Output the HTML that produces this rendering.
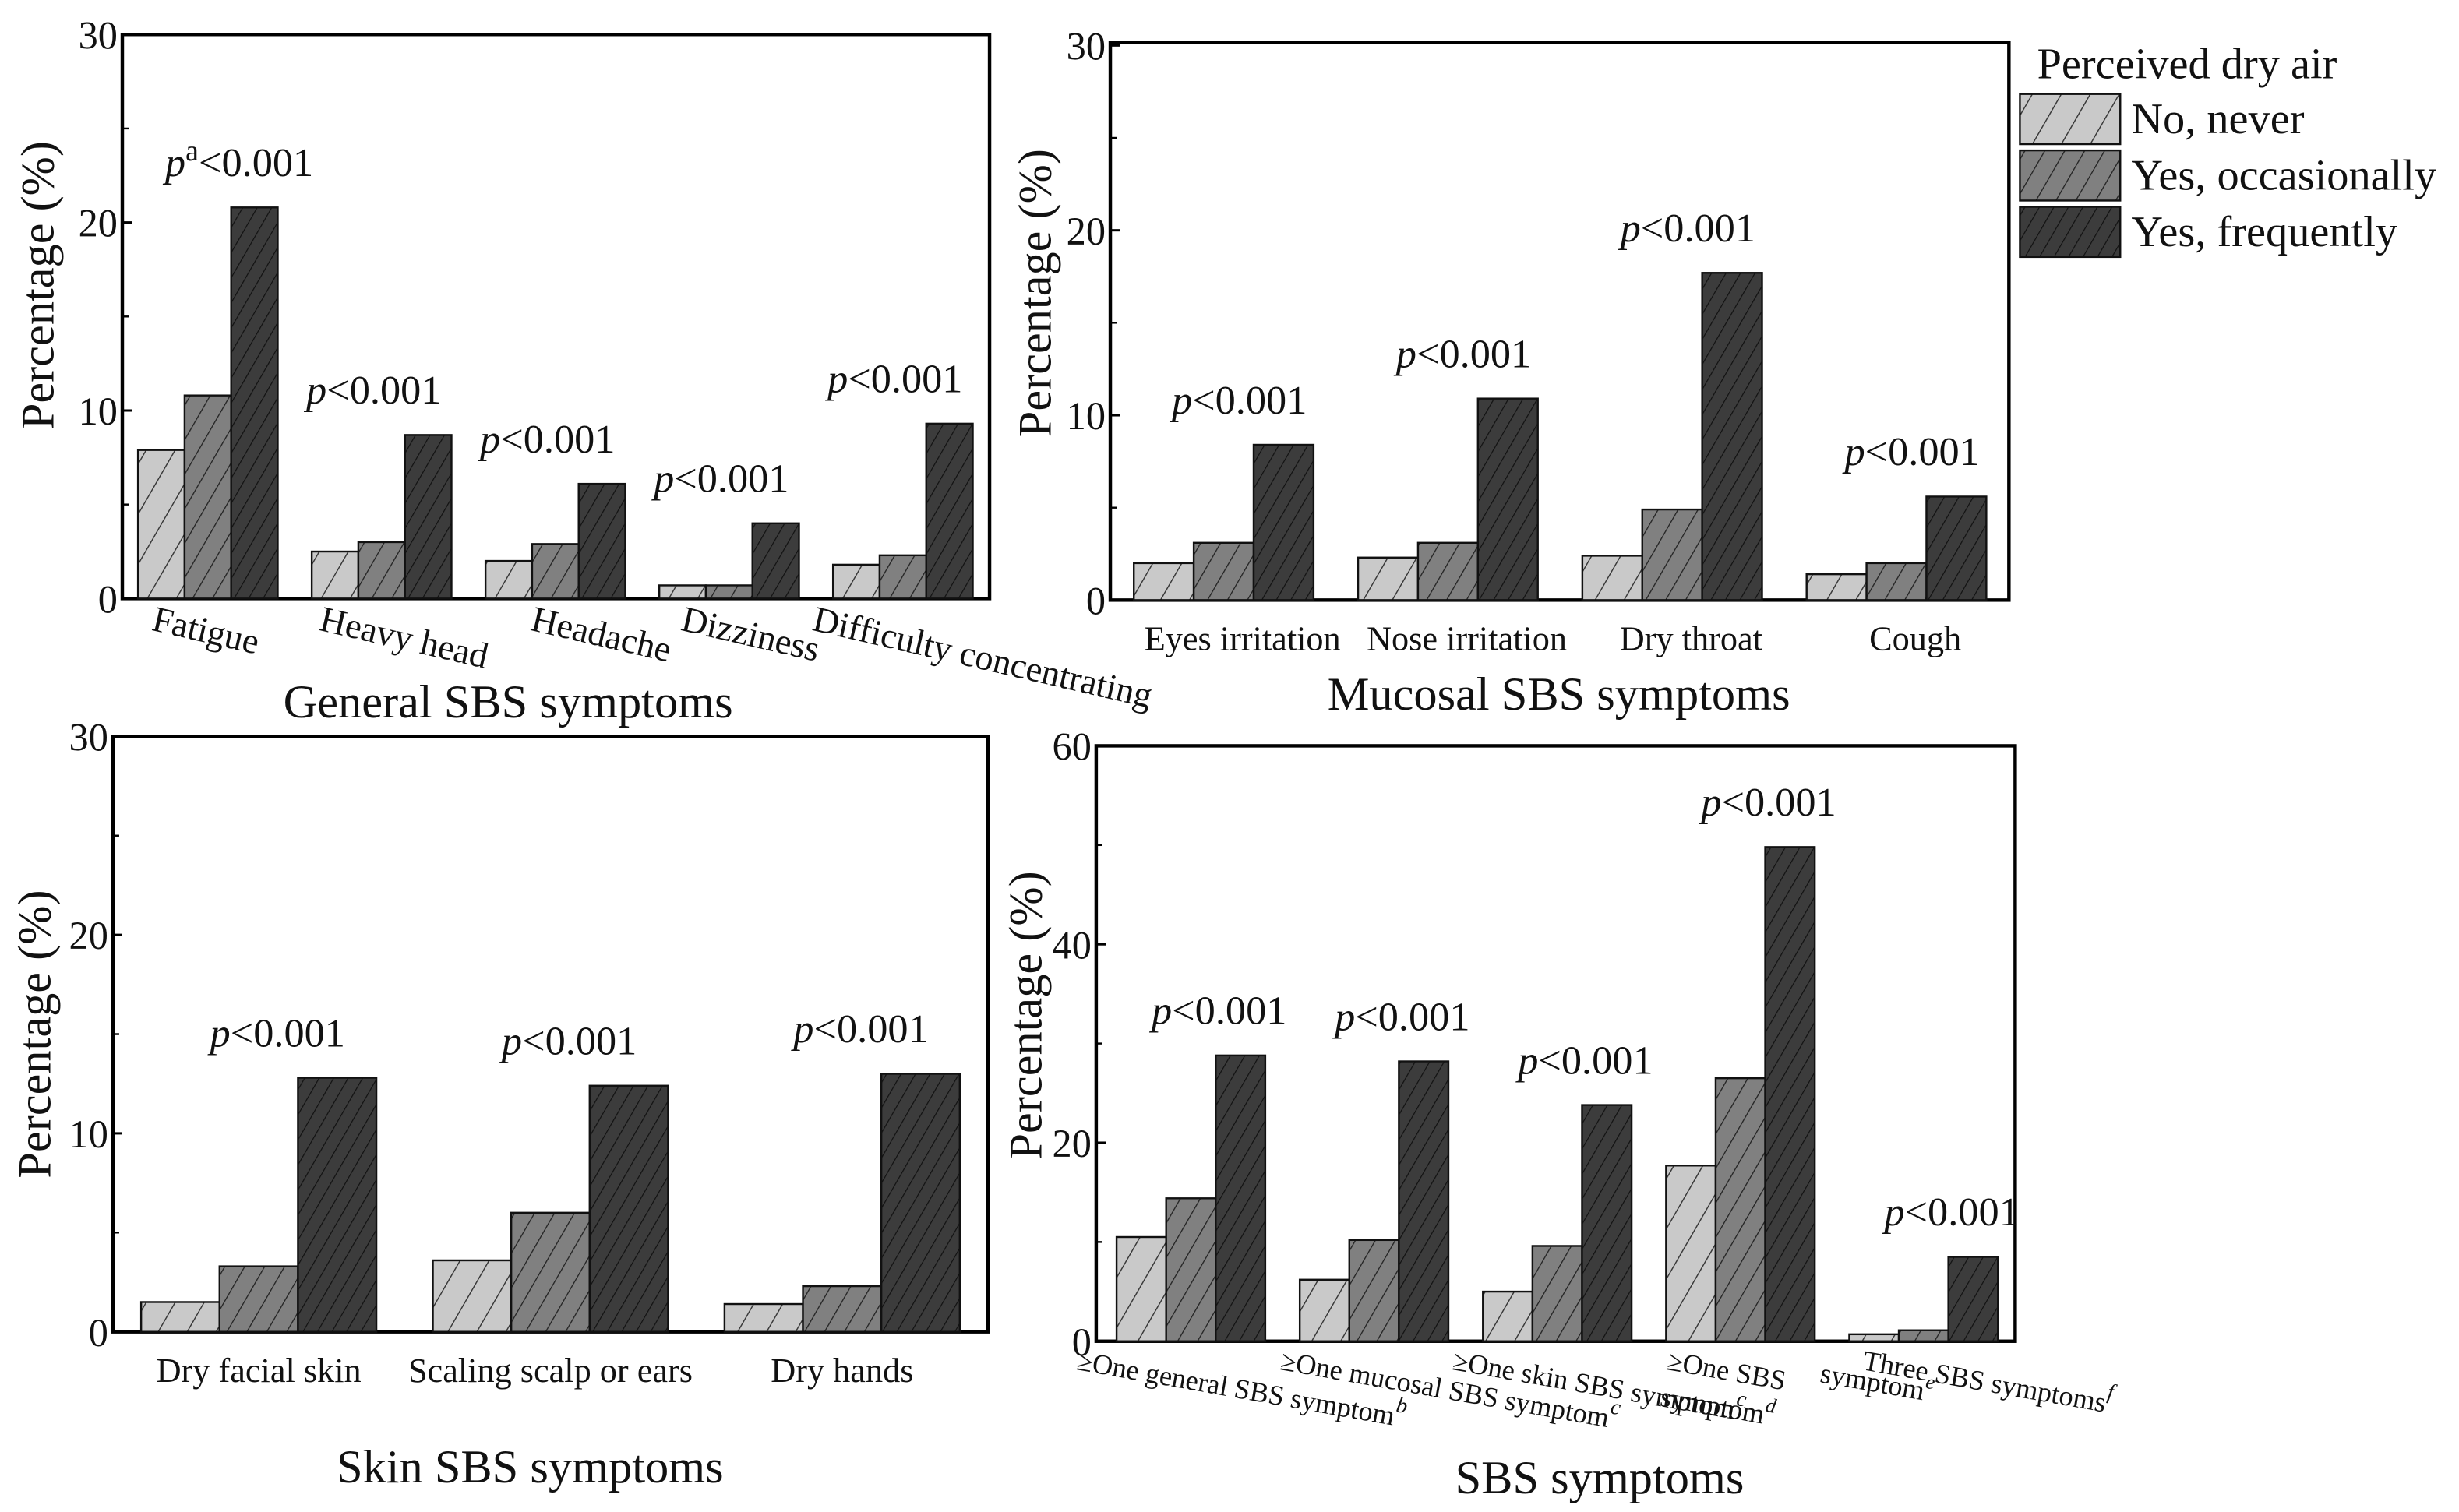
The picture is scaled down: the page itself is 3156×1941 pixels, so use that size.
<!DOCTYPE html>
<html><head><meta charset="utf-8"><style>
html,body{margin:0;padding:0;background:#fff}
svg{display:block}
svg text, svg tspan{font-family:"Liberation Serif","Times New Roman","DejaVu Serif",serif;fill:#111}
</style></head><body>
<svg id="fig" width="3156" height="1941" viewBox="0 0 1568 965" preserveAspectRatio="none" xmlns="http://www.w3.org/2000/svg" font-family="Liberation Serif, serif">
<defs>
<pattern id="h0" width="16" height="16" patternUnits="userSpaceOnUse" patternTransform="rotate(30)"><rect width="16" height="16" fill="#c9c9c9"/><line x1="0" y1="0" x2="0" y2="16" stroke="#333" stroke-width="1.4"/></pattern>
<pattern id="h1" width="11" height="11" patternUnits="userSpaceOnUse" patternTransform="rotate(30)"><rect width="11" height="11" fill="#808080"/><line x1="0" y1="0" x2="0" y2="11" stroke="#222" stroke-width="1.3"/></pattern>
<pattern id="h2" width="8" height="8" patternUnits="userSpaceOnUse" patternTransform="rotate(30)"><rect width="8" height="8" fill="#3c3c3c"/><line x1="0" y1="0" x2="0" y2="8" stroke="#111" stroke-width="1.2"/></pattern>
</defs>
<g id="legend">
<text x="1299" y="50" font-size="28">Perceived dry air</text>
<rect x="1288" y="60" width="64" height="32" fill="url(#h0)" stroke="#111" stroke-width="1.2"/>
<text x="1359" y="85" font-size="28">No, never</text>
<rect x="1288" y="96" width="64" height="32" fill="url(#h1)" stroke="#111" stroke-width="1.2"/>
<text x="1359" y="121" font-size="28">Yes, occasionally</text>
<rect x="1288" y="132" width="64" height="32" fill="url(#h2)" stroke="#111" stroke-width="1.2"/>
<text x="1359" y="157" font-size="28">Yes, frequently</text>
</g>
</svg>
<script>
// Panel 1: General SBS symptoms
const genCats = ["Fatigue","Heavy head","Headache","Dizziness","Difficulty concentrating"];
const genNever = [7.9, 2.5, 2.0, 0.7, 1.8];
const genOcc = [10.8, 3.0, 2.9, 0.7, 2.3];
const genFreq = [20.8, 8.7, 6.1, 4.0, 9.3];
const genTicks = [0, 10, 20, 30];
// Panel 2: Mucosal
const mucCats = ["Eyes irritation","Nose irritation","Dry throat","Cough"];
const mucNever = [2.0, 2.3, 2.4, 1.4];
const mucOcc = [3.1, 3.1, 4.9, 2.0];
const mucFreq = [8.4, 10.9, 17.7, 5.6];
const mucTicks = [0, 10, 20, 30];
// Panel 3: Skin
const skinCats = ["Dry facial skin","Scaling scalp or ears","Dry hands"];
const skinNever = [1.5, 3.6, 1.4];
const skinOcc = [3.3, 6.0, 2.3];
const skinFreq = [12.8, 12.4, 13.0];
const skinTicks = [0, 10, 20, 30];
// Panel 4: SBS
const sbsCats = ["≥One general SBS symptom","≥One mucosal SBS symptom","≥One skin SBS symptom","≥One SBS","Three SBS symptoms"];
const sbsSup = ["b","c","c","","f"];
const sbsNever = [10.5, 6.2, 5.0, 17.7, 0.7];
const sbsOcc = [14.4, 10.2, 9.6, 26.5, 1.1];
const sbsFreq = [28.8, 28.2, 23.8, 49.8, 8.5];
const sbsTicks = [0, 20, 40, 60];
const pLabels = ["<0.001"];

const FF = '"Liberation Serif", "Times New Roman", serif';
const NS = "http://www.w3.org/2000/svg";
const svg = document.getElementById('fig');
function mk(tag, attrs, parent, txt){
  const e = document.createElementNS(NS, tag);
  for (const k in attrs) e.setAttribute(k, attrs[k]);
  if (tag === 'text') e.setAttribute('font-family', FF);
  if (txt !== undefined) e.textContent = txt;
  (parent || svg).appendChild(e);
  return e;
}
function panel(cfg){
  const g = mk('g', {});
  
  
  const yS = v => cfg.y0 - v * (cfg.y0 - cfg.yT) / cfg.max;
  const frame = mk('rect', {x:cfg.x0, y:cfg.yT - cfg.pad, width:cfg.x1 - cfg.x0, height:cfg.y0 - cfg.yT + cfg.pad, fill:'none', stroke:'#000', 'stroke-width':2.2}, g);
  
  
  cfg.ticks.forEach(t => {
    const y = yS(t);
    const lb = mk('text', {x:cfg.x0 - 3, y:y + 9, 'font-size':25, 'text-anchor':'end'}, g, String(t));
    
    
    mk('line', {x1:cfg.x0, x2:cfg.x0 + 6, y1:y, y2:y, stroke:'#000', 'stroke-width':1.5}, g);
  });
  for (let i = 0; i < cfg.ticks.length - 1; i++) {
    const y = yS((cfg.ticks[i] + cfg.ticks[i + 1]) / 2);
    mk('line', {x1:cfg.x0, x2:cfg.x0 + 4, y1:y, y2:y, stroke:'#000', 'stroke-width':1.2}, g);
  }
  const series = [cfg.s0, cfg.s1, cfg.s2];
  cfg.cats.forEach((c, i) => {
    const gx = cfg.gx0 + i * cfg.gs;
    series.forEach((s, j) => {
      const r = mk('rect', {x:gx + j * cfg.bw, y:yS(s[i]), width:cfg.bw, height:cfg.y0 - yS(s[i]), fill:'url(#h' + j + ')', stroke:'#111', 'stroke-width':1.2}, g);
      
      
    });
    const top = yS(cfg.s2[i]);
    const dx = (cfg.supA && i === 0) ? 20 : cfg.pdx;
    const pt = mk('text', {x:gx + cfg.bw * 1.5 + dx, y:top - 20, 'font-size':26, 'text-anchor':'middle'}, g);
    
    
    mk('tspan', {'font-style':'italic'}, pt, 'p');
    if (cfg.supA && i === 0) mk('tspan', {'font-size':19, dy:-10}, pt, 'a');
    mk('tspan', (cfg.supA && i === 0) ? {dy:10} : {}, pt, pLabels[0]);
    let lb;
    if (cfg.rot) {
      const lx = gx + cfg.lxs[i], ly = cfg.y0 + cfg.ly;
      lb = mk('text', {x:lx, y:ly, 'font-size':cfg.lfs, transform:'rotate(' + cfg.rot + ' ' + lx + ' ' + ly + ')'}, g, c);
      if (cfg.sup && cfg.sup[i]) mk('tspan', {'font-size':14, 'font-style':'italic', dy:-9}, lb, cfg.sup[i]);
    } else {
      lb = mk('text', {x:gx + cfg.bw * 1.5 + cfg.ldx, y:cfg.y0 + 32, 'font-size':22, 'text-anchor':'middle'}, g, c);
    }
    
    
  });
  const yt = mk('text', {x:cfg.ylx, y:cfg.yly, 'font-size':30, 'text-anchor':'middle', transform:'rotate(-90 ' + cfg.ylx + ' ' + cfg.yly + ')'}, g, 'Percentage (%)');
  
  
  const xt = mk('text', {x:cfg.tx, y:cfg.ty, 'font-size':30, 'text-anchor':'middle'}, g, cfg.title);
  
  
  return g;
}
panel({name:'general-sbs-panel', x0:78, x1:631, yT:22, y0:382, pad:0, max:30, ticks:genTicks, cats:genCats, s0:genNever, s1:genOcc, s2:genFreq, gx0:88, gs:110.8, bw:29.7, rot:13, lxs:[8,4,28,13,-14], ly:20, lfs:23, supA:true, pdx:-5, ylx:34, yly:182, tx:324, ty:458, title:'General SBS symptoms'});
panel({name:'mucosal-sbs-panel', x0:708, x1:1281, yT:29, y0:383, pad:2, max:30, ticks:mucTicks, cats:mucCats, s0:mucNever, s1:mucOcc, s2:mucFreq, gx0:723, gs:143, bw:38.2, pdx:10, ldx:12, ylx:670, yly:187, tx:994, ty:453, title:'Mucosal SBS symptoms'});
panel({name:'skin-sbs-panel', x0:72, x1:630, yT:470, y0:850, pad:0, max:30, ticks:skinTicks, cats:skinCats, s0:skinNever, s1:skinOcc, s2:skinFreq, gx0:90, gs:186, bw:50, pdx:12, ldx:0, ylx:32, yly:660, tx:338, ty:946, title:'Skin SBS symptoms'});
panel({name:'sbs-panel', x0:699, x1:1285, yT:476, y0:856, pad:0, max:60, ticks:sbsTicks, cats:sbsCats, sup:sbsSup, s0:sbsNever, s1:sbsOcc, s2:sbsFreq, gx0:712, gs:116.8, bw:31.6, rot:10, lxs:[-26,-13,-20,0,8], ly:18, lfs:18, pdx:18, ylx:664, yly:648, tx:1020, ty:953, title:'SBS symptoms'});
const ex = mk('text', {x:1058, y:897, 'font-size':18, transform:'rotate(10 1058 897)'}, svg, 'symptom');


mk('tspan', {'font-size':13, 'font-style':'italic', dy:-8}, ex, 'd');
const ex2 = mk('text', {x:1160, y:882, 'font-size':18, transform:'rotate(10 1160 882)'}, svg, 'symptom');


mk('tspan', {'font-size':13, 'font-style':'italic', dy:-8}, ex2, 'e');
</script>
</body></html>
